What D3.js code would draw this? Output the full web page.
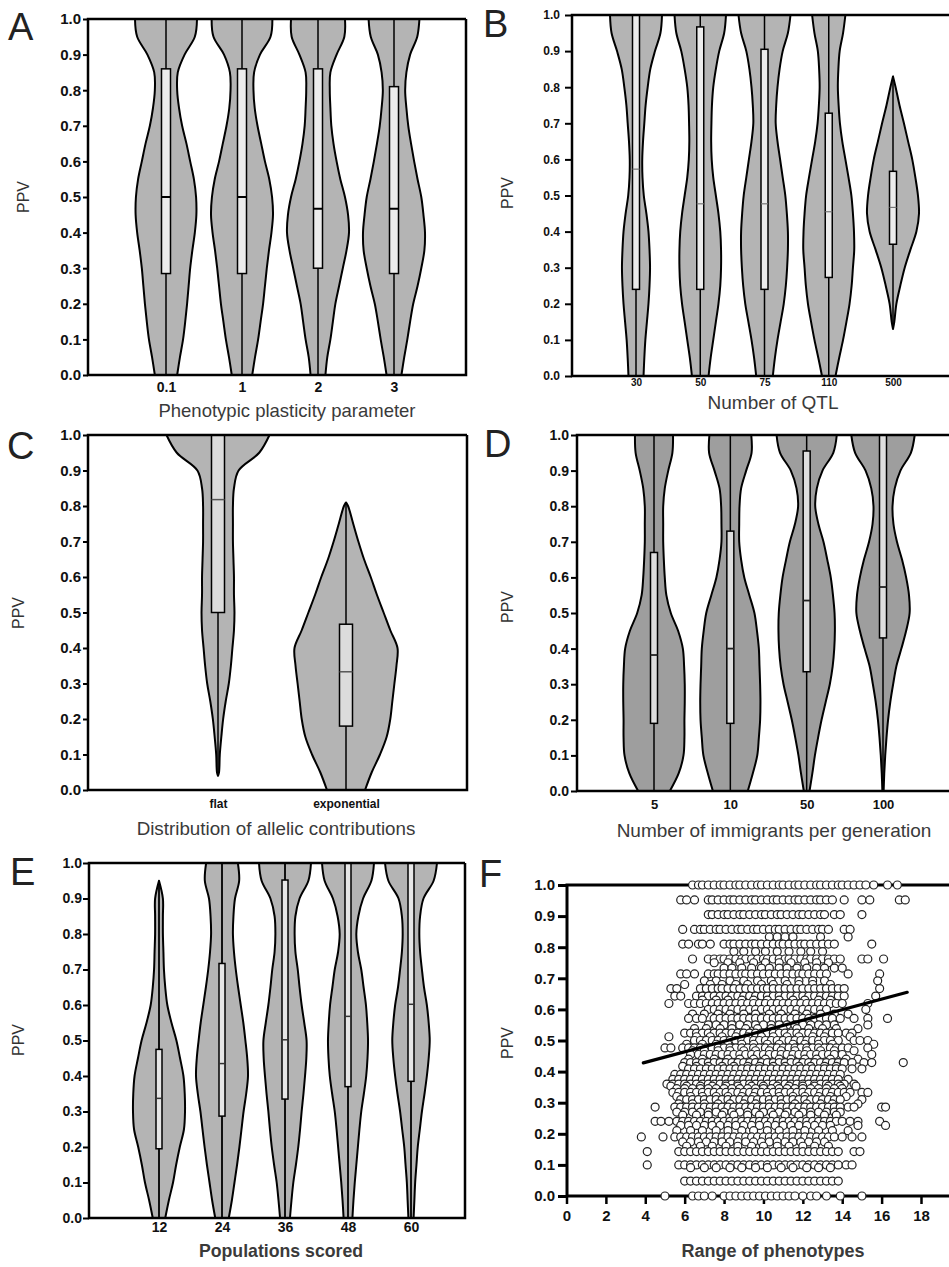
<!DOCTYPE html>
<html>
<head>
<meta charset="utf-8">
<script src="https://cdn.jsdelivr.net/npm/d3@7"></script>
<style>
  body { margin: 0; background: #fff; }
  svg { display: block; font-family: "Liberation Sans", Arial, sans-serif; }
</style>
</head>
<body>
<script>
// ---- data ----
var yTicks = [0, 0.1, 0.2, 0.3, 0.4, 0.5, 0.6, 0.7, 0.8, 0.9, 1.0];
// density grid used by every violin (PPV 0.00 .. 1.00 by 0.05)
var grid = [0, 0.05, 0.1, 0.15, 0.2, 0.25, 0.3, 0.35, 0.4, 0.45, 0.5,
            0.55, 0.6, 0.65, 0.7, 0.75, 0.8, 0.85, 0.9, 0.95, 1.0];

// A - phenotypic plasticity
var catsA = ["0.1", "1", "2", "3"];
var violinA = [
  [0.36,0.45,0.55,0.62,0.68,0.73,0.78,0.85,0.93,0.98,0.97,0.9,0.78,0.66,0.52,0.42,0.36,0.38,0.6,0.93,1.0],
  [0.33,0.42,0.52,0.6,0.68,0.74,0.8,0.87,0.95,1.0,0.97,0.88,0.74,0.62,0.5,0.41,0.37,0.39,0.58,0.92,0.98],
  [0.24,0.3,0.4,0.48,0.56,0.68,0.8,0.92,1.0,0.97,0.87,0.72,0.6,0.5,0.43,0.4,0.38,0.4,0.6,0.85,0.87],
  [0.24,0.33,0.43,0.52,0.62,0.76,0.88,0.98,1.0,0.95,0.88,0.76,0.65,0.55,0.46,0.4,0.36,0.4,0.52,0.75,0.82]
];
var spanA = [[0, 1], [0, 1], [0, 1], [0, 1]];
var boxA = [[0.285, 0.5, 0.86], [0.285, 0.5, 0.86], [0.3, 0.467, 0.86], [0.285, 0.467, 0.81]];

// B - number of QTL
var catsB = ["30", "50", "75", "110", "500"];
var violinB = [
  [0.29,0.32,0.36,0.42,0.48,0.52,0.54,0.52,0.48,0.4,0.3,0.25,0.24,0.27,0.32,0.37,0.45,0.55,0.73,0.94,1.0],
  [0.32,0.4,0.5,0.6,0.7,0.77,0.8,0.8,0.77,0.7,0.6,0.5,0.44,0.42,0.43,0.45,0.5,0.6,0.73,0.92,0.99],
  [0.32,0.4,0.5,0.62,0.74,0.82,0.87,0.9,0.9,0.86,0.8,0.7,0.6,0.5,0.43,0.45,0.5,0.58,0.7,0.9,1.0],
  [0.26,0.4,0.55,0.68,0.8,0.88,0.93,0.98,0.97,0.93,0.87,0.76,0.64,0.52,0.43,0.38,0.35,0.37,0.42,0.55,0.64],
  [0,0,0,0.05,0.13,0.28,0.45,0.67,0.9,1.0,0.96,0.86,0.74,0.58,0.42,0.25,0.1,0,0,0,0]
];
var spanB = [[0, 1], [0, 1], [0, 1], [0, 1], [0.13, 0.83]];
var boxB = [[0.24, 0.573, 1.0], [0.24, 0.477, 0.967], [0.24, 0.477, 0.905], [0.273, 0.455, 0.728], [0.365, 0.467, 0.567]];

// C - allelic contributions
var catsC = ["flat", "exponential"];
var violinC = [
  [0,0.02,0.035,0.065,0.1,0.15,0.21,0.25,0.28,0.31,0.32,0.31,0.31,0.3,0.29,0.29,0.29,0.31,0.4,0.8,1.0],
  [0.37,0.5,0.66,0.79,0.86,0.9,0.94,0.98,1.0,0.86,0.73,0.6,0.48,0.35,0.24,0.14,0.04,0,0,0,0]
];
var spanC = [[0.04, 1], [0, 0.81]];
var boxC = [[0.5, 0.818, 1.0], [0.18, 0.333, 0.467]];

// D - immigrants per generation
var catsD = ["5", "10", "50", "100"];
var violinD = [
  [0.5,0.78,0.93,0.96,0.96,0.97,0.97,0.95,0.91,0.76,0.53,0.39,0.34,0.31,0.29,0.29,0.29,0.34,0.45,0.58,0.6],
  [0.55,0.71,0.85,0.9,0.94,0.95,0.94,0.92,0.9,0.84,0.76,0.6,0.44,0.34,0.28,0.28,0.29,0.34,0.5,0.67,0.66],
  [0.09,0.18,0.26,0.36,0.47,0.6,0.73,0.82,0.87,0.89,0.88,0.83,0.76,0.65,0.53,0.37,0.27,0.32,0.5,0.84,0.95],
  [0.02,0.04,0.07,0.11,0.16,0.23,0.32,0.42,0.58,0.73,0.84,0.82,0.73,0.6,0.44,0.33,0.3,0.37,0.55,0.88,1.0]
];
var spanD = [[0, 1], [0, 1], [0, 1], [0, 1]];
var boxD = [[0.19, 0.382, 0.67], [0.19, 0.40, 0.73], [0.335, 0.535, 0.955], [0.43, 0.573, 1.0]];

// E - populations scored
var catsE = ["12", "24", "36", "48", "60"];
var violinE = [
  [0.24,0.38,0.54,0.66,0.8,0.96,1.0,0.99,0.94,0.81,0.67,0.48,0.32,0.24,0.19,0.17,0.15,0.15,0.15,0,0],
  [0.26,0.38,0.48,0.58,0.67,0.75,0.83,0.93,1.0,0.97,0.9,0.82,0.72,0.62,0.53,0.46,0.42,0.44,0.5,0.66,0.61],
  [0.19,0.25,0.32,0.42,0.51,0.58,0.64,0.71,0.77,0.82,0.83,0.74,0.64,0.56,0.49,0.4,0.37,0.4,0.56,0.9,1.0],
  [0.17,0.21,0.26,0.32,0.38,0.44,0.51,0.61,0.7,0.75,0.77,0.74,0.69,0.6,0.51,0.38,0.32,0.4,0.58,0.9,1.0],
  [0.1,0.13,0.16,0.21,0.26,0.34,0.42,0.52,0.61,0.68,0.72,0.68,0.61,0.5,0.42,0.35,0.32,0.35,0.48,0.87,1.0]
];
var spanE = [[0, 0.95], [0, 1], [0, 1], [0, 1], [0, 1]];
var boxE = [[0.195, 0.337, 0.475], [0.287, 0.435, 0.717], [0.335, 0.502, 0.952], [0.37, 0.568, 1.0], [0.385, 0.602, 1.0]];

// F - PPV against range of phenotypes (one row of x values per PPV level)
var rangeTicks = [0, 2, 4, 6, 8, 10, 12, 14, 16, 18];
var ppvLevels = [1.0, 0.952, 0.905, 0.857, 0.833, 0.81, 0.786, 0.762, 0.75, 0.733, 0.714, 0.692,
  0.68, 0.667, 0.643, 0.63, 0.619, 0.6, 0.585, 0.571, 0.55, 0.538, 0.524, 0.512, 0.5, 0.488,
  0.476, 0.467, 0.455, 0.44, 0.429, 0.417, 0.409, 0.391, 0.375, 0.36, 0.353, 0.345, 0.333,
  0.32, 0.31, 0.296, 0.286, 0.27, 0.26, 0.24, 0.227, 0.21, 0.19, 0.174, 0.16, 0.143, 0.1,
  0.091, 0.048, 0.0];
var rangeRows = [
  "6.4 6.7 6.9 7.2 7.5 7.8 8.0 8.3 8.6 8.8 9.1 9.4 9.7 9.9 10.2 10.5 10.8 11.0 11.3 11.6 11.8 12.1 12.4 12.7 12.9 13.2 13.5 13.8 14.0 14.3 14.6 14.9 15.2 15.6 16.3 16.8",
  "5.8 6.1 6.5 7.2 7.4 7.7 8.0 8.3 8.5 8.8 9.1 9.4 9.6 9.9 10.2 10.5 10.7 11.0 11.3 11.6 11.8 12.1 12.4 12.7 12.9 13.2 13.5 14.1 15.0 15.4 16.9 17.2",
  "7.2 7.4 7.7 8.0 8.2 8.5 8.8 9.0 9.3 9.6 9.9 10.1 10.4 10.7 10.9 11.2 11.5 11.8 12.0 12.3 12.6 12.9 13.1 13.6 13.9 15.0",
  "5.9 6.5 6.8 7.0 7.3 7.6 7.8 8.1 8.4 8.7 8.9 9.2 9.5 9.7 10.0 10.3 10.6 10.8 11.1 11.4 11.7 11.9 12.2 12.5 12.8 13.0 13.3 14.1 14.4",
  "10.3 10.7 11.1 11.5 12.9 14.3",
  "5.9 6.2 6.7 6.9 7.3 8.0 8.3 8.5 8.8 9.1 9.4 9.6 9.9 10.2 10.5 10.8 11.0 11.3 11.6 11.9 12.1 12.4 12.7 13.0 13.3 13.6 15.5",
  "8.5 9.0 9.6 10.1 10.7 11.3 11.9 12.4 13.0",
  "6.4 7.2 7.5 7.8 8.0 8.3 8.6 8.9 9.1 9.4 9.7 10.0 10.2 10.5 10.8 11.1 11.3 11.6 11.9 12.2 12.4 12.7 13.0 13.3 13.6 13.9 15.0 15.3 16.1",
  "7.5 8.2 8.8 9.5 10.1 10.8 11.4 12.1 12.7 13.3",
  "8.0 8.4 8.9 9.4 9.9 10.3 10.8 11.2 11.7 12.2 12.7 13.1 13.6 14.0",
  "5.8 6.1 6.5 7.2 7.5 7.7 8.0 8.3 8.6 8.9 9.1 9.4 9.7 10.0 10.3 10.6 10.9 11.2 11.5 11.8 12.0 12.3 12.6 12.9 13.2 14.3 15.9",
  "7.0 7.6 8.3 9.0 9.7 10.4 11.1 11.8 12.5 13.1 15.8",
  "6.0 7.3 7.9 8.6 9.2 9.9 10.5 11.2 11.8 12.5 13.4",
  "5.3 5.6 6.8 7.1 7.4 7.7 7.9 8.2 8.5 8.8 9.1 9.4 9.7 10.0 10.2 10.5 10.8 11.1 11.4 11.7 12.0 12.3 12.6 12.9 13.2 13.5 13.8 14.1 15.9",
  "5.5 5.8 6.6 6.9 7.2 7.5 7.8 8.1 8.4 8.7 9.0 9.3 9.6 9.9 10.2 10.5 10.8 11.1 11.4 11.7 12.0 12.3 12.6 12.9 13.2 13.5 13.8 14.1 15.7",
  "6.9 7.6 8.2 8.9 9.5 10.2 10.8 11.5 12.1 12.8 13.4",
  "5.2 6.2 6.5 6.8 7.1 7.4 7.7 8.0 8.3 8.6 8.9 9.2 9.5 9.8 10.1 10.4 10.7 11.0 11.3 11.6 11.9 12.2 12.5 12.8 13.1 13.4 13.7 14.0 15.3",
  "7.2 7.5 7.8 8.1 8.4 8.7 9.0 9.3 9.6 9.9 10.2 10.5 10.8 11.1 11.4 11.7 12.0 12.3 12.6 12.9 13.2 15.2",
  "6.4 7.0 7.7 8.3 9.0 9.6 10.3 10.9 11.6 12.2 12.9 13.6 14.3",
  "6.2 6.6 6.9 7.5 7.8 8.1 8.4 8.7 9.0 9.3 9.6 9.9 10.2 10.5 10.8 11.1 11.4 11.7 12.0 12.3 12.6 12.9 13.2 13.5 13.9 14.6 15.3 16.3",
  "7.2 7.6 8.0 8.4 8.8 9.2 9.6 10.0 10.4 10.8 11.2 11.6 12.0 12.4 12.8 13.2 13.6 15.3",
  "6.5 7.1 7.8 8.4 9.1 9.7 10.4 11.0 11.7 12.3 13.0 13.7 14.8",
  "6.0 6.3 6.6 6.9 7.2 7.5 7.8 8.1 8.4 8.7 9.0 9.3 9.6 9.9 10.2 10.5 10.8 11.1 11.4 11.7 12.0 12.3 12.6 12.9 13.2 13.5 13.8 14.2 14.5",
  "5.2 6.6 7.3 7.9 8.6 9.2 9.9 10.5 11.2 11.8 12.5 13.1 14.4",
  "6.5 6.8 7.1 7.4 7.7 8.0 8.3 8.6 8.9 9.2 9.5 9.8 10.1 10.4 10.7 11.0 11.3 11.6 11.9 12.2 12.5 12.8 13.1 13.4 13.8 14.6 14.9 15.3",
  "6.1 6.9 7.6 8.2 8.9 9.5 10.2 10.8 11.5 12.1 12.8 13.5 15.6",
  "5.0 5.3 5.9 6.2 6.5 6.8 7.1 7.4 7.7 8.0 8.3 8.6 8.9 9.2 9.5 9.8 10.1 10.4 10.7 11.0 11.3 11.6 11.9 12.2 12.5 12.8 13.1 13.4 13.7 14.0 14.3 15.3",
  "6.4 7.0 7.7 8.3 9.0 9.6 10.3 10.9 11.6 12.2 12.9 13.6 14.6",
  "6.3 6.7 7.0 7.3 7.6 7.9 8.2 8.5 8.8 9.1 9.4 9.7 10.0 10.3 10.6 10.9 11.2 11.5 11.8 12.1 12.4 12.7 13.0 13.3 13.6 14.0 15.5",
  "6.2 6.9 7.5 8.2 8.8 9.5 10.1 10.8 11.4 12.1 12.7 13.4 14.2 14.8",
  "6.0 6.3 6.6 6.9 7.2 7.5 7.8 8.1 8.4 8.7 9.0 9.3 9.6 9.9 10.2 10.5 10.8 11.1 11.4 11.7 12.0 12.3 12.6 12.9 13.2 13.5 13.8 14.1 14.5 15.1 15.5 17.1",
  "5.9 6.6 7.2 7.9 8.5 9.2 9.8 10.5 11.1 11.8 12.4 13.1 13.7",
  "6.2 6.5 6.8 7.1 7.4 7.7 8.0 8.3 8.6 8.9 9.2 9.5 9.8 10.1 10.4 10.7 11.0 11.3 11.6 11.9 12.2 12.5 12.8 13.1 13.4 13.7 14.0 14.5 15.0",
  "5.5 5.8 6.1 6.4 6.7 7.0 7.3 7.6 7.9 8.2 8.5 8.8 9.1 9.4 9.7 10.0 10.3 10.6 10.9 11.2 11.5 11.8 12.1 12.4 12.7 13.0 13.3 13.6 13.9",
  "5.4 5.7 6.0 6.3 6.6 6.9 7.2 7.5 7.8 8.1 8.4 8.7 9.0 9.3 9.6 9.9 10.2 10.5 10.8 11.1 11.4 11.7 12.0 12.3 12.6 12.9 13.2 13.5 13.8 14.3",
  "5.1 5.4 5.7 6.0 6.3 6.6 6.9 7.2 7.5 7.8 8.1 8.4 8.7 9.0 9.3 9.6 9.9 10.2 10.5 10.8 11.1 11.4 11.7 12.0 12.3 12.6 12.9 13.2 13.5 13.8 14.1 14.6",
  "5.3 6.1 6.8 7.4 8.1 8.7 9.4 10.0 10.7 11.3 12.0 12.6 13.3 13.9 14.7",
  "5.6 6.0 6.4 6.8 7.2 7.6 8.0 8.4 8.8 9.2 9.6 10.0 10.4 10.8 11.2 11.6 12.0 12.4 12.8 13.2 13.6 14.0",
  "5.4 5.7 6.0 6.3 6.6 6.9 7.2 7.5 7.8 8.1 8.4 8.7 9.0 9.3 9.6 9.9 10.2 10.5 10.8 11.1 11.4 11.7 12.0 12.3 12.6 12.9 13.2 13.5 13.8 14.1 14.4 15.0 15.3",
  "5.6 6.3 6.9 7.6 8.2 8.9 9.5 10.2 10.8 11.5 12.1 12.8 13.4 14.2",
  "5.8 6.1 6.4 6.7 7.0 7.3 7.6 7.9 8.2 8.5 8.8 9.1 9.4 9.7 10.0 10.3 10.6 10.9 11.2 11.5 11.8 12.1 12.4 12.7 13.0 13.3 13.6 13.9 15.0",
  "5.7 6.4 7.0 7.7 8.3 9.0 9.6 10.3 10.9 11.6 12.2 12.9 13.5 14.8",
  "4.5 5.5 5.8 6.1 6.4 6.7 7.0 7.3 7.6 7.9 8.2 8.5 8.8 9.1 9.4 9.7 10.0 10.3 10.6 10.9 11.2 11.5 11.8 12.1 12.4 12.7 13.0 13.3 13.6 13.9 14.3 14.6 16.0 16.2",
  "5.6 6.0 6.4 6.8 7.2 7.6 8.0 8.4 8.8 9.2 9.6 10.0 10.4 10.8 11.2 11.6 12.0 12.4 12.8 13.2 13.6 13.9",
  "5.9 6.6 7.2 7.9 8.5 9.2 9.8 10.5 11.1 11.8 12.4 13.1 13.7",
  "4.5 4.8 5.2 5.6 5.9 6.2 6.5 6.8 7.1 7.4 7.7 8.0 8.3 8.6 8.9 9.2 9.5 9.8 10.1 10.4 10.7 11.0 11.3 11.6 11.9 12.2 12.5 12.8 13.1 13.4 13.7 14.0 14.4 14.8 15.9",
  "5.8 6.2 6.6 7.0 7.4 7.8 8.2 8.6 9.0 9.4 9.8 10.2 10.6 11.0 11.4 11.8 12.2 12.6 13.0 13.4 14.8 16.2",
  "5.6 6.3 6.9 7.6 8.2 8.9 9.5 10.2 10.8 11.5 12.1 12.8 13.5 14.3",
  "3.8 4.9 5.5 5.8 6.1 6.4 6.7 7.0 7.3 7.6 7.9 8.2 8.5 8.8 9.1 9.4 9.7 10.0 10.3 10.6 10.9 11.2 11.5 11.8 12.1 12.4 12.7 13.0 13.3 13.6 14.0 14.5 15.0",
  "5.9 6.3 6.7 7.1 7.5 7.9 8.3 8.7 9.1 9.5 9.9 10.3 10.7 11.1 11.5 11.9 12.3 12.7 13.1",
  "6.1 6.8 7.4 8.1 8.7 9.4 10.0 10.7 11.3 12.0 12.6 13.3",
  "4.1 5.7 6.0 6.3 6.6 6.9 7.2 7.5 7.8 8.1 8.4 8.7 9.0 9.3 9.6 9.9 10.2 10.5 10.8 11.1 11.4 11.7 12.0 12.3 12.6 12.9 13.2 13.5 13.8 14.6 14.9",
  "4.1 5.7 6.0 6.3 6.6 6.9 7.2 7.5 7.8 8.1 8.4 8.7 9.0 9.3 9.6 9.9 10.2 10.5 10.8 11.1 11.4 11.7 12.0 12.3 12.6 12.9 13.2 13.5 13.8 14.2 14.5",
  "6.3 7.0 7.6 8.3 8.9 9.6 10.2 10.9 11.5 12.2 12.8 13.4",
  "6.0 6.3 6.6 6.9 7.2 7.5 7.8 8.1 8.4 8.7 9.0 9.3 9.6 9.9 10.2 10.5 10.8 11.1 11.4 11.7 12.0 12.3 12.6 12.9 13.2 13.5 13.8",
  "5.0 6.4 6.7 7.0 7.4 8.0 8.3 8.6 8.9 9.2 9.5 9.8 10.1 10.4 10.7 11.0 11.3 11.6 12.0 12.4 12.7 13.2 13.9 15.0"
];
var fitLine = [[3.9, 0.428], [17.3, 0.655]];

// ---- drawing ----
var W = 949, H = 1267;
var svg = d3.select("body").append("svg").attr("width", W).attr("height", H);
svg.append("rect").attr("width", W).attr("height", H).attr("fill", "#fff");

var fmt = d3.format(".1f");

function widthAt(prof, v) {
  var i = Math.round(v * 20);
  return Math.abs(grid[i] - v) < 1e-6 ? prof[i] : 0;
}

function violinPanel(p) {
  var g = svg.append("g");
  var y = d3.scaleLinear().domain([0, 1]).range([p.bottom, p.top]);
  var x = d3.scalePoint().domain(p.cats).range([p.first, p.last]);
  var w = d3.scaleLinear().domain([0, 1]).range([0, p.maxHw]);

  var area = d3.area()
    .curve(d3.curveCatmullRom.alpha(0.5))
    .y(function(d) { return y(d[0]); })
    .x0(function(d) { return d.cx - w(d[1]); })
    .x1(function(d) { return d.cx + w(d[1]); });

  p.cats.forEach(function(c, i) {
    var cx = x(c), lo = p.spans[i][0], hi = p.spans[i][1], prof = p.violins[i];
    var pts = [[lo, widthAt(prof, lo)]];
    grid.forEach(function(v, k) {
      if (v > lo + 1e-6 && v < hi - 1e-6) pts.push([v, prof[k]]);
    });
    pts.push([hi, widthAt(prof, hi)]);
    pts.forEach(function(d) { d.cx = cx; });

    g.append("path").attr("d", area(pts))
      .attr("fill", p.fill).attr("stroke", "#000").attr("stroke-width", 2)
      .attr("stroke-linejoin", "round");

    g.append("line")
      .attr("x1", cx).attr("x2", cx).attr("y1", y(lo)).attr("y2", y(hi))
      .attr("stroke", "#000").attr("stroke-width", p.whisker);

    var b = p.boxes[i];
    g.append("rect")
      .attr("x", cx - p.boxW / 2).attr("width", p.boxW)
      .attr("y", y(b[2])).attr("height", y(b[0]) - y(b[2]))
      .attr("fill", p.boxFill).attr("stroke", "#000").attr("stroke-width", 1.5);
    g.append("line")
      .attr("x1", cx - p.boxW / 2).attr("x2", cx + p.boxW / 2)
      .attr("y1", y(b[1])).attr("y2", y(b[1]))
      .attr("stroke", p.medColor).attr("stroke-width", p.medWidth);
  });

  // frame
  var fr = "M" + p.right + "," + p.top + "H" + p.left + "V" + p.bottom + "H" + p.right;
  if (p.closed) fr += "V" + p.top;
  g.append("path").attr("d", fr).attr("fill", "none")
    .attr("stroke", "#000").attr("stroke-width", 2.5);

  // y axis
  var ya = g.append("g").attr("transform", "translate(" + p.left + ",0)")
    .call(d3.axisLeft(y).tickValues(yTicks).tickFormat(fmt).tickSize(p.ytick[0]).tickPadding(p.ytick[1]));
  ya.select(".domain").remove();
  ya.selectAll("line").attr("stroke", "#000").attr("stroke-width", 2);
  ya.selectAll("text").attr("font-size", p.ytick[2]).attr("font-weight", "bold")
    .attr("fill", "#111").attr("font-family", "Liberation Sans, Arial, sans-serif");

  // x axis
  var xa = g.append("g").attr("transform", "translate(0," + p.bottom + ")")
    .call(d3.axisBottom(x).tickSize(0).tickPadding(p.xtick[0]));
  xa.select(".domain").remove();
  xa.selectAll("text").attr("font-size", p.xtick[1]).attr("font-weight", "bold")
    .attr("fill", "#111").attr("font-family", "Liberation Sans, Arial, sans-serif");

  labels(p);
}

function labels(p) {
  svg.append("text").attr("x", p.letter[0]).attr("y", p.letter[1])
    .attr("font-size", 38).attr("fill", "#222").text(p.id);
  svg.append("text")
    .attr("transform", "translate(" + p.ppv[0] + "," + p.ppv[1] + ") rotate(-90)")
    .attr("text-anchor", "middle").attr("dy", "0.35em")
    .attr("font-size", 16).attr("fill", "#333").text("PPV");
  svg.append("text").attr("x", p.title[1]).attr("y", p.title[2])
    .attr("text-anchor", "middle").attr("font-size", p.title[3])
    .attr("font-weight", p.title[4] || "normal")
    .attr("fill", "#3a3a3a").text(p.title[0]);
}

violinPanel({
  id: "A", cats: catsA, violins: violinA, spans: spanA, boxes: boxA,
  left: 88, right: 466, top: 19, bottom: 375, first: 166, last: 394, closed: true,
  maxHw: 31, boxW: 9, fill: "#b4b4b4", boxFill: "#ececec", medColor: "#000", medWidth: 2, whisker: 1.5,
  ytick: [5, 2, 15], xtick: [7, 14],
  letter: [8, 40], ppv: [23, 197], title: ["Phenotypic plasticity parameter", 287, 417, 18.5]
});

violinPanel({
  id: "B", cats: catsB, violins: violinB, spans: spanB, boxes: boxB,
  left: 572, right: 960, top: 15, bottom: 376, first: 636, last: 893, closed: false,
  maxHw: 26, boxW: 7, fill: "#b4b4b4", boxFill: "#ececec", medColor: "#777", medWidth: 1.2, whisker: 1.5,
  ytick: [7, 5, 12], xtick: [3, 10],
  letter: [483, 37], ppv: [507, 193], title: ["Number of QTL", 773, 409, 19]
});

violinPanel({
  id: "C", cats: catsC, violins: violinC, spans: spanC, boxes: boxC,
  left: 88, right: 467, top: 435, bottom: 790, first: 218, last: 346, closed: true,
  maxHw: 51.5, boxW: 13, fill: "#b4b4b4", boxFill: "#dcdcdc", medColor: "#555", medWidth: 1.5, whisker: 1.5,
  ytick: [5, 2, 15], xtick: [9, 12],
  letter: [7, 459], ppv: [18, 613], title: ["Distribution of allelic contributions", 276, 835, 18.8]
});

violinPanel({
  id: "D", cats: catsD, violins: violinD, spans: spanD, boxes: boxD,
  left: 577, right: 960, top: 435, bottom: 791, first: 654, last: 883, closed: false,
  maxHw: 31.7, boxW: 7, fill: "#9e9e9e", boxFill: "#dedede", medColor: "#222", medWidth: 1.8, whisker: 1.5,
  ytick: [6, 2, 14], xtick: [9, 13],
  letter: [484, 457], ppv: [507, 607], title: ["Number of immigrants per generation", 774, 837, 19]
});

violinPanel({
  id: "E", cats: catsE, violins: violinE, spans: spanE, boxes: boxE,
  left: 89, right: 465, top: 863, bottom: 1218, first: 159, last: 411, closed: true,
  maxHw: 26, boxW: 6, fill: "#b4b4b4", boxFill: "#e6e6e6", medColor: "#333", medWidth: 1.5, whisker: 1.8,
  ytick: [6, 1, 14], xtick: [4, 14],
  letter: [10, 885], ppv: [18, 1040], title: ["Populations scored", 281, 1257, 17.7, "bold"]
});

// ---- F: scatter ----
(function() {
  var p = { id: "F", left: 567, right: 960, top: 885, bottom: 1196,
    letter: [479, 887], ppv: [507, 1043], title: ["Range of phenotypes", 773, 1257, 18, "bold"] };
  var g = svg.append("g");
  var x = d3.scaleLinear().domain([0, 18]).range([566.5, 921]);
  var y = d3.scaleLinear().domain([0, 1]).range([p.bottom, p.top]);

  var pts = [];
  rangeRows.forEach(function(row, i) {
    row.split(" ").forEach(function(s) { pts.push([+s, ppvLevels[i]]); });
  });

  g.append("path")
    .attr("d", "M" + p.right + "," + p.top + "H" + p.left + "V" + p.bottom + "H" + p.right)
    .attr("fill", "none").attr("stroke", "#000").attr("stroke-width", 3);

  var ya = g.append("g").attr("transform", "translate(" + p.left + ",0)")
    .call(d3.axisLeft(y).tickValues(yTicks).tickFormat(fmt).tickSize(9).tickPadding(3));
  ya.select(".domain").remove();
  ya.selectAll("line").attr("stroke", "#000").attr("stroke-width", 3);
  ya.selectAll("text").attr("font-size", 15).attr("font-weight", "bold").attr("fill", "#111")
    .attr("font-family", "Liberation Sans, Arial, sans-serif");

  var xa = g.append("g").attr("transform", "translate(0," + p.bottom + ")")
    .call(d3.axisBottom(x).tickValues(rangeTicks).tickSize(8).tickPadding(6));
  xa.select(".domain").remove();
  xa.selectAll("line").attr("stroke", "#000").attr("stroke-width", 2.5);
  xa.selectAll("text").attr("font-size", 15).attr("font-weight", "bold").attr("fill", "#111")
    .attr("font-family", "Liberation Sans, Arial, sans-serif");

  g.append("g").selectAll("circle").data(pts).enter().append("circle")
    .attr("cx", function(d) { return x(d[0]); })
    .attr("cy", function(d) { return y(d[1]); })
    .attr("r", 4)
    .attr("fill", "#fff").attr("stroke", "#222").attr("stroke-width", 1.2);

  g.append("line")
    .attr("x1", x(fitLine[0][0])).attr("y1", y(fitLine[0][1]))
    .attr("x2", x(fitLine[1][0])).attr("y2", y(fitLine[1][1]))
    .attr("stroke", "#000").attr("stroke-width", 3.2).attr("stroke-linecap", "round");

  labels(p);
})();
</script>
</body>
</html>
